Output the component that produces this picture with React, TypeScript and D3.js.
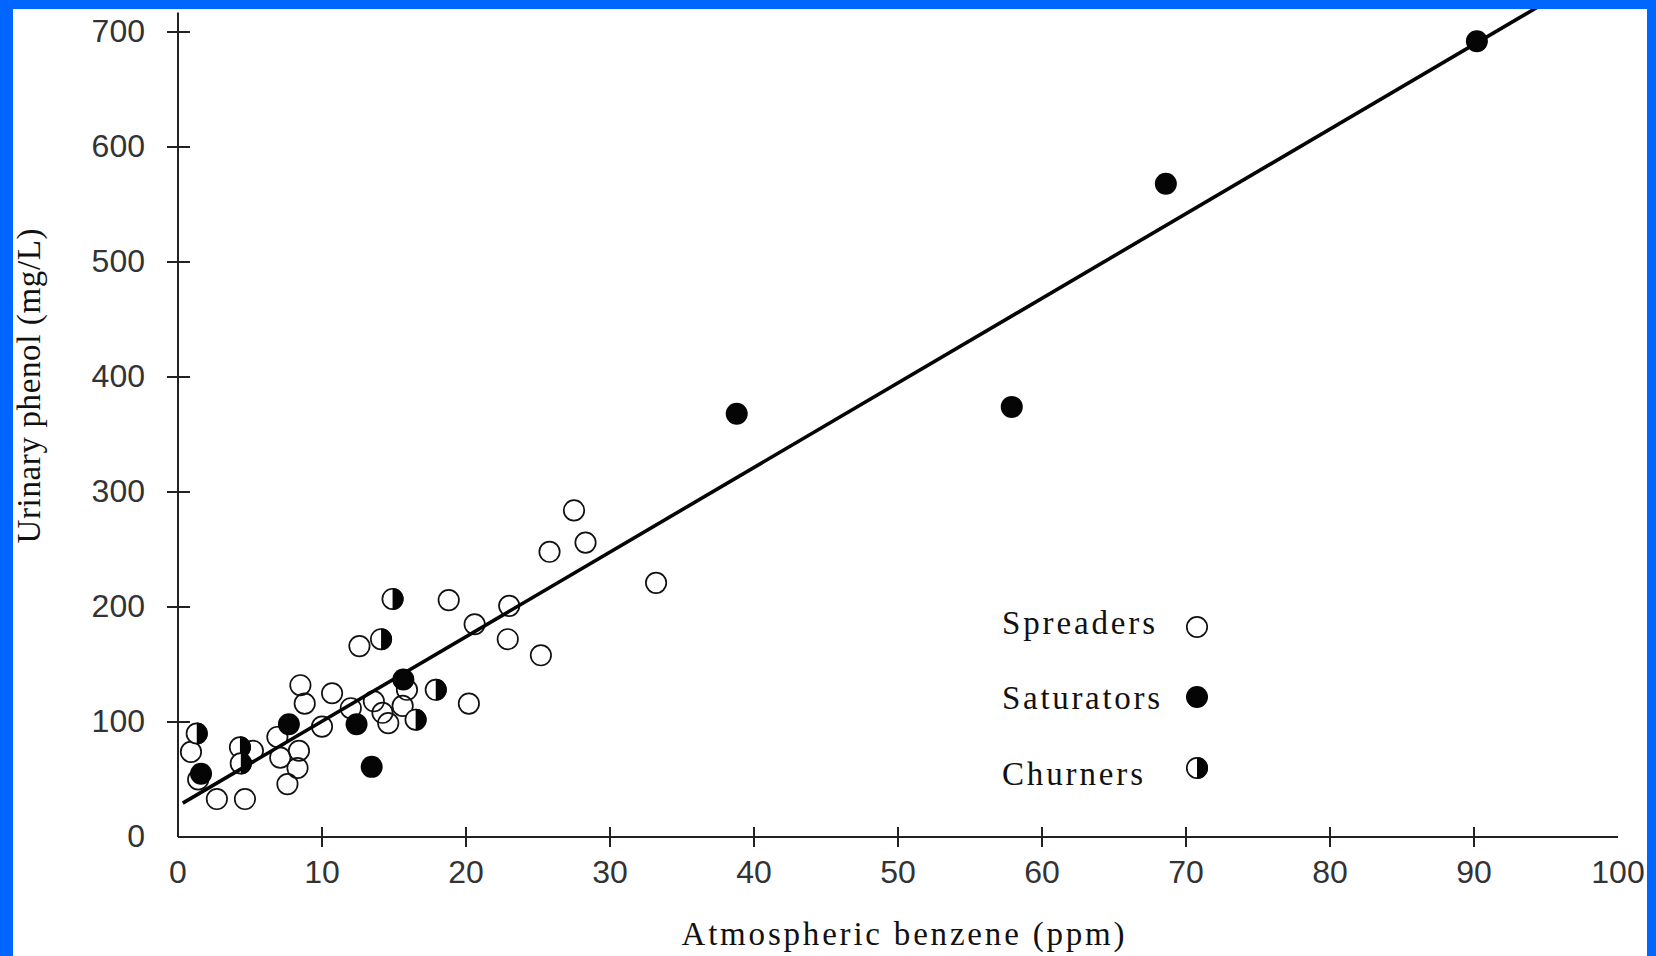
import React from "react";
import * as d3 from "d3";

// ---- data ----
const spreadersX = [0.9, 1.4, 2.7, 4.65, 5.2, 6.9, 7.1, 8.4, 8.3, 7.6, 8.5, 8.8, 10.7, 10.0, 12.0, 13.6, 14.2, 14.6, 15.6, 15.9, 12.6, 18.8, 20.6, 20.2, 23.0, 22.9, 25.2, 25.8, 27.5, 28.3, 33.2];
const spreadersY = [74, 50, 33, 33, 75, 87, 69, 75, 60, 46, 132, 116, 125, 96, 112, 118, 108, 99, 114, 128, 166, 206, 185, 116, 201, 172, 158, 248, 284, 256, 221];
const saturatorsX = [1.6, 7.7, 12.4, 13.45, 15.65, 38.8, 57.9, 68.6, 90.2];
const saturatorsY = [55, 98, 98, 61, 137, 368, 374, 568, 692];
const churnersX = [1.3, 4.3, 4.36, 14.1, 14.9, 17.9, 16.5];
const churnersY = [90, 78, 64, 172, 207, 128, 102];
const fitX = [0.33, 94.6];
const fitY = [29.5, 723];
const xTicks = [0, 10, 20, 30, 40, 50, 60, 70, 80, 90, 100];
const yTicks = [0, 100, 200, 300, 400, 500, 600, 700];
const legendLabels = ["Spreaders", "Saturators", "Churners"];
const xTitle = "Atmospheric benzene (ppm)";
const yTitle = "Urinary phenol (mg/L)";

const W = 1656;
const H = 956;
const BLUE = "#0066ff";
const R = 11;

const x = d3.scaleLinear().domain([0, 100]).range([178, 1618]);
const y = d3.scaleLinear().domain([0, 700]).range([837, 32]);

function Open({ cx, cy }: { cx: number; cy: number }) {
  return <circle cx={cx} cy={cy} r={R - 0.8} fill="none" stroke="#111" strokeWidth={1.7} />;
}
function Filled({ cx, cy }: { cx: number; cy: number }) {
  return <circle cx={cx} cy={cy} r={R} fill="#050505" />;
}
function Half({ cx, cy }: { cx: number; cy: number }) {
  const arc = d3.arc()({ innerRadius: 0, outerRadius: R, startAngle: 0, endAngle: Math.PI } as any) as string;
  return (
    <g>
      <circle cx={cx} cy={cy} r={R - 0.8} fill="white" stroke="#111" strokeWidth={1.7} />
      <path d={arc} transform={`translate(${cx},${cy})`} fill="#050505" />
    </g>
  );
}

export default function App() {
  const line = d3
    .line<number>()
    .x((d) => x(fitX[d]))
    .y((d) => y(fitY[d]))([0, 1]) as string;
  const legendY = [627, 697, 768];
  const legendBase = [634, 709, 785];
  const legendLen = [153, 158, 141];
  const serif = "'Liberation Serif', 'DejaVu Serif', serif";
  const sans = "'Liberation Sans', Arial, sans-serif";
  return (
    <div style={{ position: "absolute", left: 0, top: 0 }}>
      <svg width={W} height={H} style={{ display: "block" }}>
        <rect x={0} y={0} width={W} height={H} fill="white" />
        {/* axes */}
        <line x1={x(0)} x2={x(0)} y1={y(0)} y2={y(717)} stroke="#222" strokeWidth={2} />
        <line x1={x(0)} x2={x(100)} y1={y(0)} y2={y(0)} stroke="#222" strokeWidth={2} />
        {yTicks.filter((t) => t > 0).map((t) => (
          <line key={"yt" + t} x1={x(0) - 11} x2={x(0) + 12} y1={y(t)} y2={y(t)} stroke="#222" strokeWidth={2} />
        ))}
        {xTicks.filter((t) => t > 0 && t < 100).map((t) => (
          <line key={"xt" + t} x1={x(t)} x2={x(t)} y1={y(0) - 10} y2={y(0) + 10} stroke="#222" strokeWidth={2} />
        ))}
        {yTicks.map((t) => (
          <text key={"yl" + t} x={145} y={y(t) + 9.5} textAnchor="end" fontFamily={sans} fontSize={32} fill="#333">
            {t}
          </text>
        ))}
        {xTicks.map((t) => (
          <text key={"xl" + t} x={x(t)} y={883} textAnchor="middle" fontFamily={sans} fontSize={32} fill="#333">
            {t}
          </text>
        ))}
        {/* markers */}
        {spreadersX.map((v, i) => (
          <Open key={"s" + i} cx={x(v)} cy={y(spreadersY[i])} />
        ))}
        {saturatorsX.map((v, i) => (
          <Filled key={"f" + i} cx={x(v)} cy={y(saturatorsY[i])} />
        ))}
        {churnersX.map((v, i) => (
          <Half key={"c" + i} cx={x(v)} cy={y(churnersY[i])} />
        ))}
        {/* regression line */}
        <path d={line} stroke="#050505" strokeWidth={3.6} fill="none" />
        {/* legend */}
        {legendLabels.map((l, i) => (
          <text key={l} x={1002} y={legendBase[i]} fontFamily={serif} fontSize={33} fill="#111" textLength={legendLen[i]} lengthAdjust="spacing">
            {l}
          </text>
        ))}
        <Open cx={1197} cy={legendY[0]} />
        <Filled cx={1197} cy={legendY[1]} />
        <Half cx={1197} cy={legendY[2]} />
        {/* titles */}
        <text x={903} y={945} textAnchor="middle" fontFamily={serif} fontSize={33} fill="#111" textLength={443} lengthAdjust="spacing">
          {xTitle}
        </text>
        <text
          transform={`translate(40,386) rotate(-90)`}
          textAnchor="middle"
          fontFamily={serif}
          fontSize={33}
          fill="#111"
          textLength={315}
          lengthAdjust="spacing"
        >
          {yTitle}
        </text>
        {/* blue frame */}
        <rect x={0} y={0} width={13} height={H} fill={BLUE} />
        <rect x={0} y={0} width={W} height={9} fill={BLUE} />
        <rect x={W - 9} y={0} width={9} height={H} fill={BLUE} />
      </svg>
    </div>
  );
}
